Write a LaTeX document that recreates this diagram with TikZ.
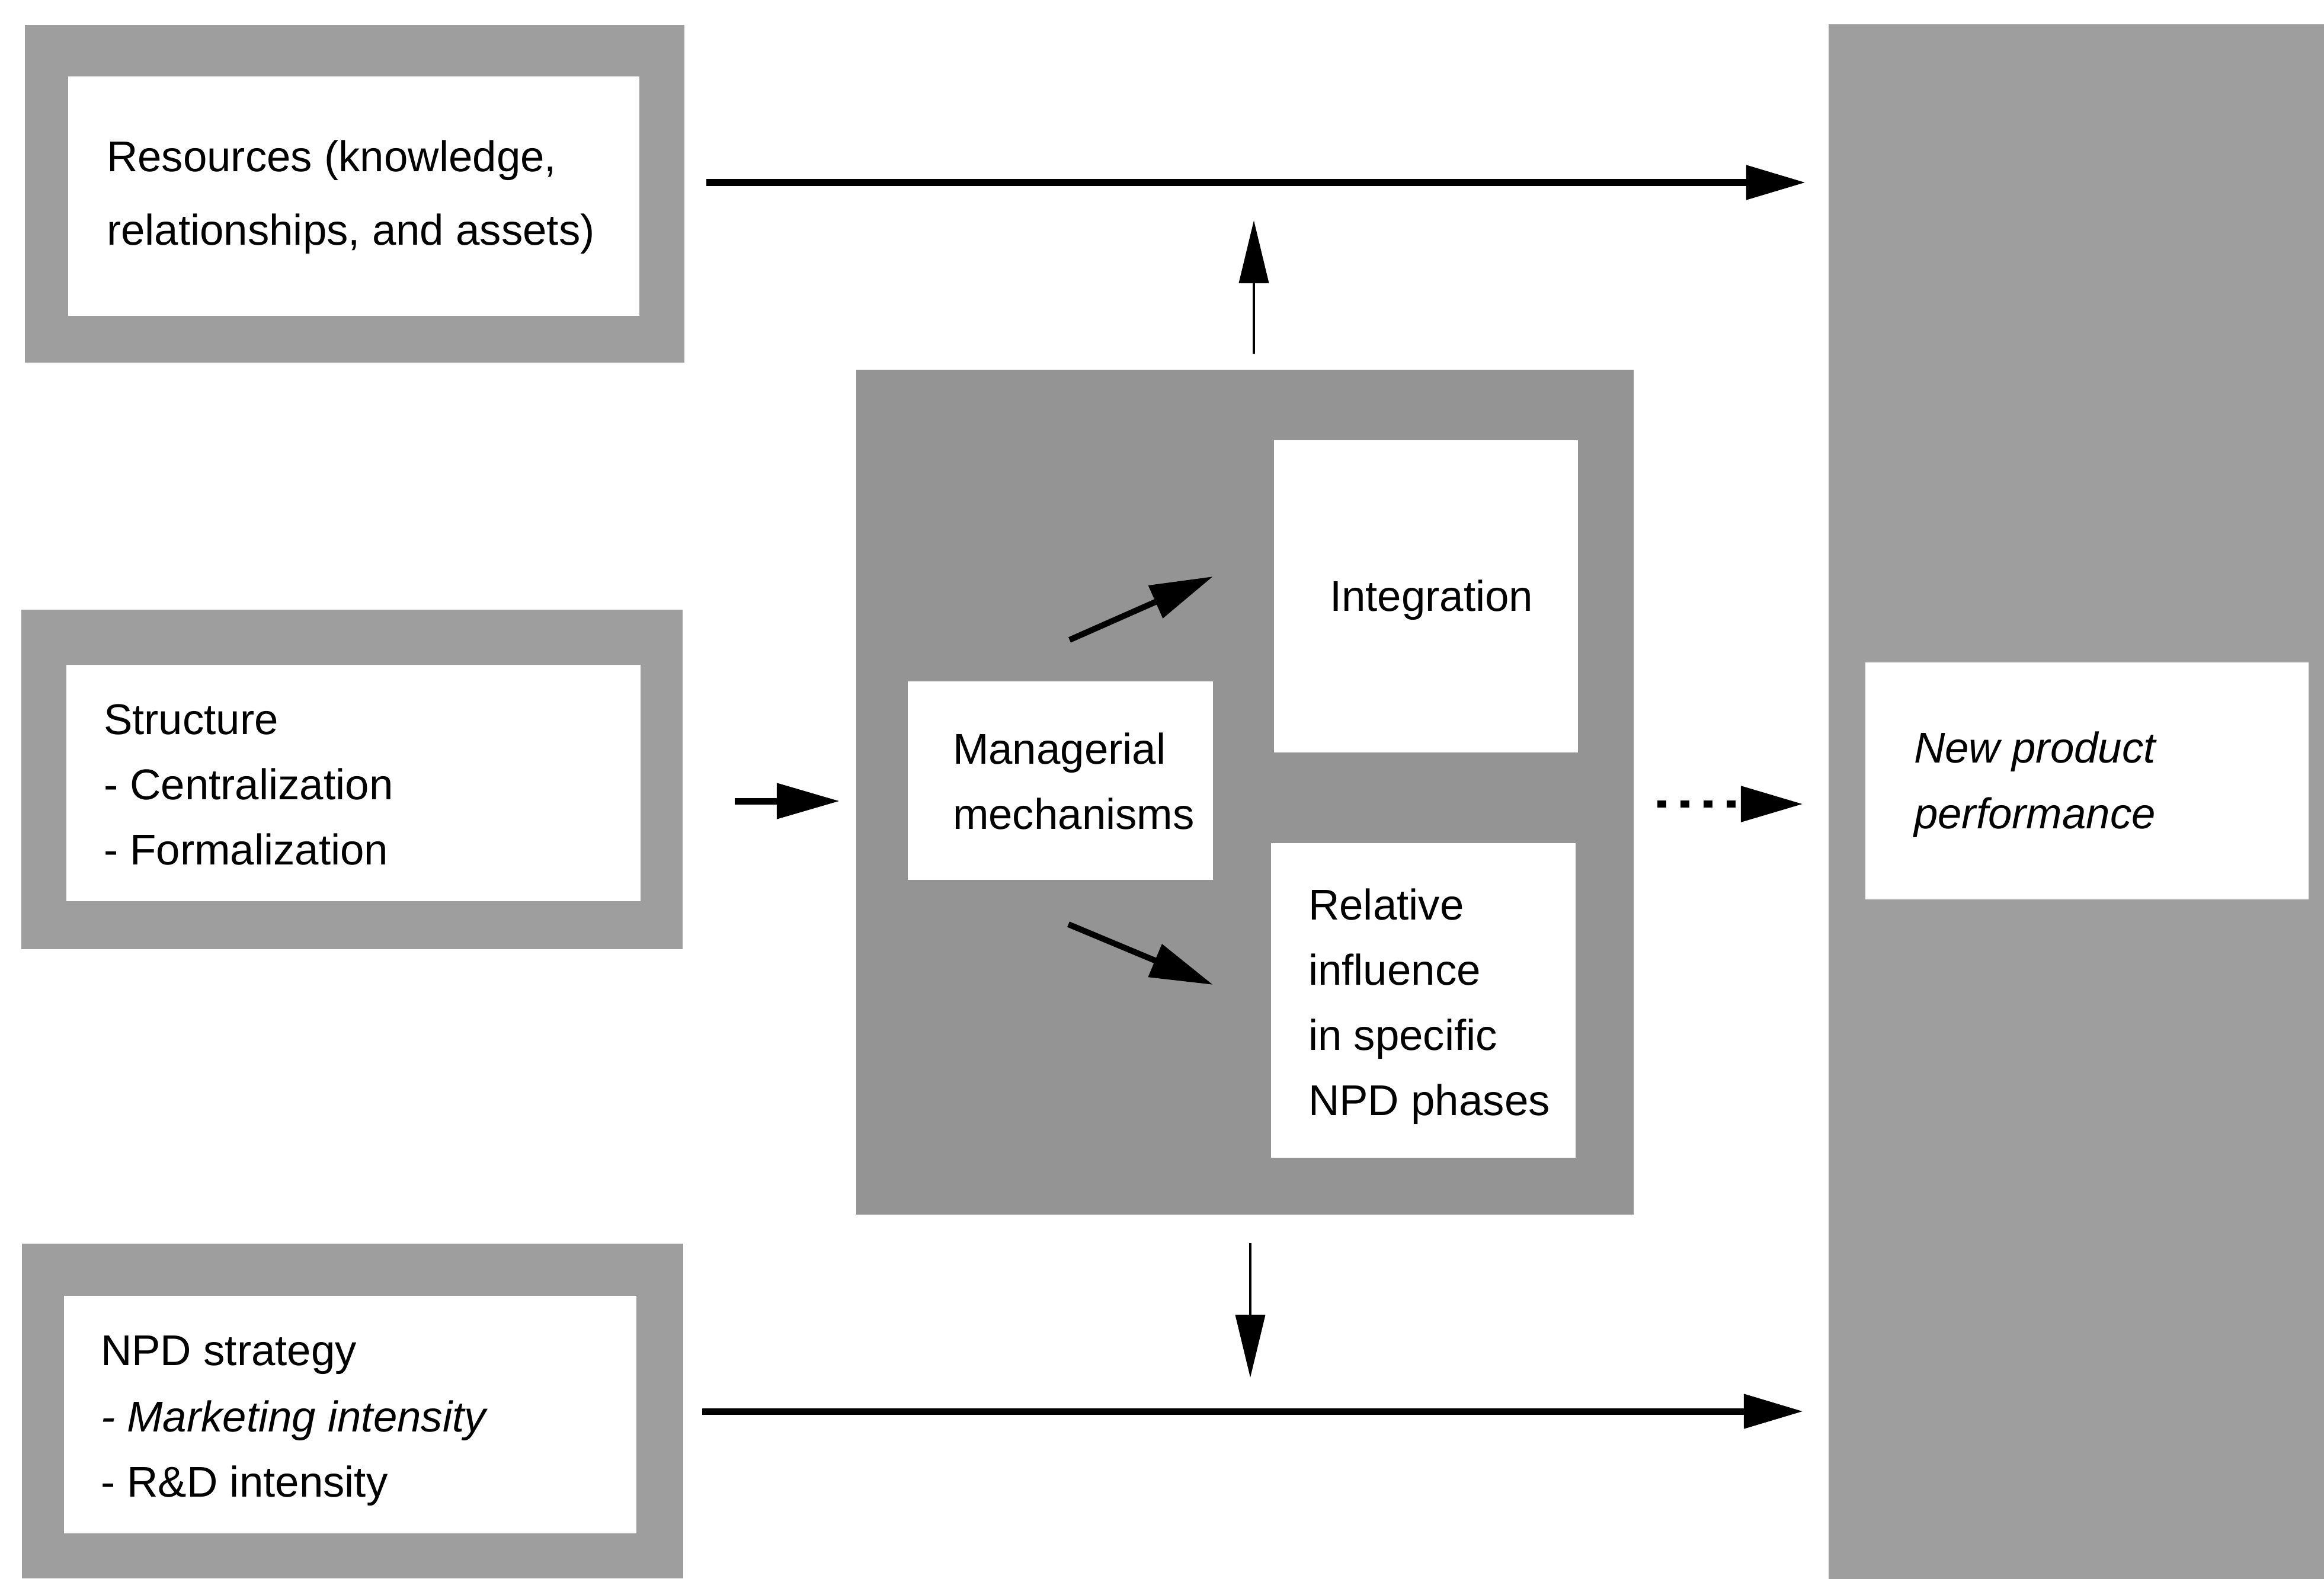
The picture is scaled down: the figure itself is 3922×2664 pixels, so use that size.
\documentclass[tikz,border=0pt]{standalone}
\usepackage{fontspec}
\setmainfont{Liberation Sans}
\usetikzlibrary{arrows.meta}
\definecolor{shadeA}{gray}{0.62}
\definecolor{shadeB}{gray}{0.58}
\begin{document}
\begin{tikzpicture}[x=0.01cm,y=-0.01cm,
  frame/.style={fill=shadeA,draw=none,inner sep=0pt,outer sep=0pt},
  cframe/.style={fill=shadeB,draw=none,inner sep=0pt,outer sep=0pt},
  whitebox/.style={fill=white,draw=none,inner sep=0pt,outer sep=0pt},
  lbl/.style={anchor=base west,inner sep=0pt,outer sep=0pt,font=\fontsize{20.66pt}{24pt}\selectfont},
  ilbl/.style={lbl,font=\fontsize{20.66pt}{24pt}\selectfont\itshape},
  thickarrow/.style={line width=0.11cm,-{Triangle[length=1cm,width=0.56cm]}},
  thinarrow/.style={line width=0.04cm,-{Triangle[length=1.06cm,width=0.5cm]}},
  midarrow/.style={line width=0.11cm,-{Triangle[length=1.06cm,width=0.58cm]}},
  dotarrow/.style={line width=0.12cm,dash pattern=on 0.15cm off 0.24cm,-{Triangle[length=1.05cm,width=0.58cm]}}
]
\path[use as bounding box,fill=white] (0,0) rectangle (3922,2664);

% left frames
\node[frame,minimum width=11.13cm,minimum height=5.70cm] (resO) at (598.5,327) {};
\node[whitebox,minimum width=9.64cm,minimum height=4.04cm] (resI) at (597,331) {};
\node[frame,minimum width=11.16cm,minimum height=5.73cm] (strO) at (594,1315.5) {};
\node[whitebox,minimum width=9.69cm,minimum height=3.99cm] (strI) at (596.5,1321.5) {};
\node[frame,minimum width=11.16cm,minimum height=5.65cm] (npdO) at (595,2381.5) {};
\node[whitebox,minimum width=9.66cm,minimum height=4.01cm] (npdI) at (591,2387.5) {};

% centre frame
\node[cframe,minimum width=13.12cm,minimum height=14.26cm] (ctrO) at (2101,1337) {};
\node[whitebox,minimum width=5.13cm,minimum height=5.27cm] (integ) at (2406.5,1006.5) {};
\node[whitebox,minimum width=5.15cm,minimum height=3.35cm] (mgr) at (1789.5,1317.5) {};
\node[whitebox,minimum width=5.14cm,minimum height=5.31cm] (rel) at (2402,1688.5) {};

% right frame
\node[frame,minimum width=8.36cm,minimum height=26.22cm] (perfO) at (3504,1353) {};
\node[whitebox,minimum width=7.48cm,minimum height=4.00cm] (perfI) at (3522,1318) {};

% texts
\node[lbl] (r1) at (180,290) {Resources (knowledge,};
\node[lbl] (r2) at (180,413) {relationships, and assets)};

\node[lbl] (s1) at (175,1239) {Structure};
\node[lbl] (s2) at (175,1349) {- Centralization};
\node[lbl] (s3) at (175,1459) {- Formalization};

\node[lbl] (n1) at (170,2304) {NPD strategy};
\node[ilbl] (n2) at (170,2416) {- Marketing intensity};
\node[lbl] (n3) at (170,2526) {- R\&D intensity};

\node[lbl] (m1) at (1608,1289) {Managerial};
\node[lbl] (m2) at (1608,1399) {mechanisms};

\node[lbl] (i1) at (2244,1031) {Integration};

\node[lbl] (q1) at (2208,1552) {Relative};
\node[lbl] (q2) at (2208,1662) {influence};
\node[lbl] (q3) at (2208,1772) {in specific};
\node[lbl] (q4) at (2208,1882) {NPD phases};

\node[ilbl] (p1) at (3230,1287) {New product};
\node[ilbl] (p2) at (3230,1398) {performance};

% arrow end points
\coordinate (topS) at (1192,308);
\coordinate (topE) at (3047,308);
\coordinate (upS) at (2116,597);
\coordinate (upE) at (2116,372);
\coordinate (strS) at (1240,1352);
\coordinate (strE) at (1417,1352);
\coordinate (duS) at (1805,1080);
\coordinate (duE) at (2047,973);
\coordinate (ddS) at (1803,1560);
\coordinate (ddE) at (2047,1662);
\coordinate (dotS) at (2797,1357);
\coordinate (dotE) at (3043,1357);
\coordinate (dnS) at (2110,2098);
\coordinate (dnE) at (2110,2325);
\coordinate (botS) at (1185,2382);
\coordinate (botE) at (3043,2382);

\draw[thickarrow] (topS) -- (topE);
\draw[thinarrow] (upS) -- (upE);
\draw[midarrow] (strS) -- (strE);
\draw[midarrow,line width=0.10cm] (duS) -- (duE);
\draw[midarrow,line width=0.10cm] (ddS) -- (ddE);
\draw[dotarrow] (dotS) -- (dotE);
\draw[thinarrow] (dnS) -- (dnE);
\draw[thickarrow] (botS) -- (botE);
\end{tikzpicture}
\end{document}
